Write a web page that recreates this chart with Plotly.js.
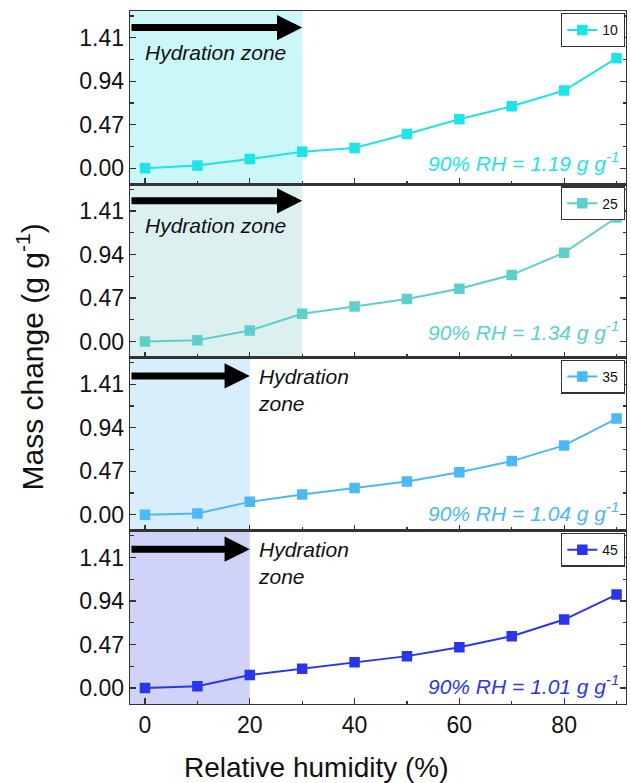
<!DOCTYPE html>
<html>
<head>
<meta charset="utf-8">
<script src="https://cdn.plot.ly/plotly-3.0.1.min.js"></script>
<style>html,body{margin:0;padding:0;background:#fff;}#chart{width:631px;height:783px;}</style>
</head>
<body>
<div id="chart"></div>
<script>
// ---- data ----
var rh = [0, 10, 20, 30, 40, 50, 60, 70, 80, 90];
var m10 = [0, 0.03, 0.10, 0.18, 0.22, 0.37, 0.53, 0.67, 0.84, 1.19];
var m25 = [0, 0.015, 0.12, 0.30, 0.38, 0.46, 0.57, 0.72, 0.96, 1.34];
var m35 = [0, 0.015, 0.14, 0.22, 0.29, 0.36, 0.46, 0.58, 0.75, 1.04];
var m45 = [0, 0.02, 0.14, 0.21, 0.28, 0.345, 0.44, 0.56, 0.74, 1.01];
var seriesNames = ["10", "25", "35", "45"];
var zoneEnd = [30, 30, 20, 20];
var rhAt90 = ["1.19", "1.34", "1.04", "1.01"];
var yTicks = [0, 0.47, 0.94, 1.41];

(function () {
var series = [m10, m25, m35, m45];
var colors = ["#1EE3E8", "#5ECFCB", "#4CB8F5", "#2A36EC"];
var shades = ["#CCF7F8", "#DCF1EF", "#D8EEFC", "#D0D2F7"];
var FONT = "Arial, 'Liberation Sans', sans-serif";
var xRange = [-2.86, 91.8];
var yRange = [-0.172, 1.699];
var axisColor = "#333";

var traces = [], shapes = [], annotations = [];
var layout = {
  width: 631, height: 783,
  margin: {l: 130, r: 5, t: 11, b: 79},
  paper_bgcolor: "#fff", plot_bgcolor: "#fff",
  font: {family: FONT, color: "#111"},
  showlegend: true
};

for (var i = 0; i < 4; i++) {
  var suf = i === 0 ? "" : String(i + 1);
  var xa = "x" + suf, ya = "y" + suf;
  var dTop = 1 - 0.25 * i, dBot = 1 - 0.25 * (i + 1);
  var legName = "legend" + suf;
  traces.push({
    x: rh, y: series[i], name: seriesNames[i],
    xaxis: xa, yaxis: ya,
    type: "scatter", mode: "lines+markers",
    line: {color: colors[i], width: 2},
    marker: {color: colors[i], symbol: "square", size: 10.5},
    legend: legName
  });
  layout["xaxis" + suf] = {
    domain: [0, 1], anchor: ya, range: xRange,
    showgrid: false, zeroline: false,
    showline: true, linecolor: axisColor, linewidth: 1.3, mirror: true,
    ticks: "inside", ticklen: 6, tickwidth: 1.3, tickcolor: axisColor,
    tick0: 0, dtick: 20,
    minor: {dtick: 10, tick0: 0, ticks: "inside", ticklen: 3.5, tickwidth: 1.3, tickcolor: axisColor},
    showticklabels: i === 3,
    tickfont: {family: FONT, size: 23, color: "#111"}
  };
  layout["yaxis" + suf] = {
    domain: [dBot, dTop], anchor: xa, range: yRange,
    showgrid: false, zeroline: false,
    showline: true, linecolor: axisColor, linewidth: 1.3, mirror: "ticks",
    ticks: "inside", ticklen: 6, tickwidth: 1.3, tickcolor: axisColor,
    tickmode: "array", tickvals: yTicks, ticktext: yTicks.map(function(v){return v.toFixed(2);}),
    minor: {tickmode: "linear", dtick: 0.235, tick0: 0, ticks: "inside", ticklen: 3.5, tickwidth: 1.3, tickcolor: axisColor},
    tickfont: {family: FONT, size: 23, color: "#111"}
  };
  layout[legName] = {
    x: 0.998, xanchor: "right", y: dTop - 2 / 693, yanchor: "top",
    xref: "paper", yref: "paper",
    bgcolor: "#fff", bordercolor: axisColor, borderwidth: 1.3,
    font: {family: FONT, size: 14, color: "#111"},
    itemwidth: 30
  };

  shapes.push({
    type: "rect", layer: "below", xref: xa, yref: ya + " domain",
    x0: xRange[0], x1: zoneEnd[i], y0: 0, y1: 1,
    fillcolor: shades[i], line: {width: 0}
  });

  var arrowY = i < 2 ? 1.52 : 1.50;
  annotations.push({
    xref: xa, yref: ya, x: zoneEnd[i], y: arrowY,
    axref: xa, ayref: ya, ax: xRange[0], ay: arrowY,
    text: "", showarrow: true, arrowhead: 2, arrowsize: 0.72, arrowwidth: 7, arrowcolor: "#000",
    standoff: 0, startstandoff: 0
  });

  if (i < 2) {
    annotations.push({
      xref: xa + " domain", yref: ya, x: 0.026, y: 1.25, xanchor: "left", yanchor: "middle",
      text: "<i>Hydration zone</i>", showarrow: false,
      font: {family: FONT, size: 21, color: "#111"}
    });
  } else {
    annotations.push({
      xref: xa + " domain", yref: ya, x: 0.255, y: 1.35, xanchor: "left", yanchor: "middle",
      align: "left",
      text: "<i>Hydration<br>zone</i>", showarrow: false,
      font: {family: FONT, size: 21, color: "#111"}
    });
  }
  var rhY = [0.07, 0.115, 0.03, 0.03][i];
  annotations.push({
    xref: xa + " domain", yref: ya, x: 0.99, y: rhY, xanchor: "right", yanchor: "middle",
    text: "<i>90% RH = " + rhAt90[i] + " g g<sup>-1</sup></i>", showarrow: false,
    font: {family: FONT, size: 21, color: colors[i]}
  });
}

annotations.push({
  xref: "paper", yref: "paper", x: -0.2016, y: 0.5, xanchor: "center", yanchor: "middle",
  text: "Mass change (g g<sup>-1</sup>)", textangle: -90, showarrow: false,
  font: {family: FONT, size: 30, color: "#111"}
});
annotations.push({
  xref: "paper", yref: "paper", x: 0.375, y: -0.091, xanchor: "center", yanchor: "middle",
  text: "Relative humidity (%)", showarrow: false,
  font: {family: FONT, size: 28, color: "#111"}
});

layout.shapes = shapes;
layout.annotations = annotations;

Plotly.newPlot("chart", traces, layout, {displayModeBar: false, staticPlot: true});
})();
</script>
</body>
</html>
